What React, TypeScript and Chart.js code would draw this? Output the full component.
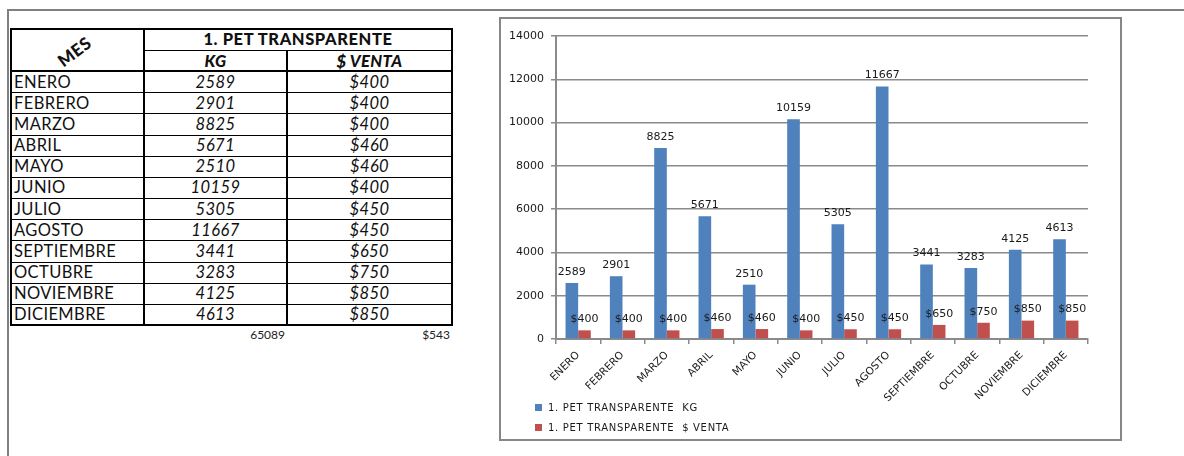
import React, { useEffect, useRef } from "react";
import { Chart, registerables } from "chart.js";

Chart.register(...registerables);

const months = [
  "ENERO",
  "FEBRERO",
  "MARZO",
  "ABRIL",
  "MAYO",
  "JUNIO",
  "JULIO",
  "AGOSTO",
  "SEPTIEMBRE",
  "OCTUBRE",
  "NOVIEMBRE",
  "DICIEMBRE",
];
const kgValues = [2589, 2901, 8825, 5671, 2510, 10159, 5305, 11667, 3441, 3283, 4125, 4613];
const ventaValues = [400, 400, 400, 460, 460, 400, 450, 450, 650, 750, 850, 850];
const seriesLabels = ["1. PET TRANSPARENTE  KG", "1. PET TRANSPARENTE  $ VENTA"];
const seriesColors = ["#4F81BD", "#C0504D"];
const yMin = 0;
const yMax = 14000;
const yStep = 2000;
const tableTitle = "1. PET TRANSPARENTE";
const colHeaders = ["MES", "KG", "$ VENTA"];
const totalKg = String(kgValues.reduce((a, b) => a + b, 0));
const avgVenta = "$" + Math.round(ventaValues.reduce((a, b) => a + b, 0) / ventaValues.length);

const FONT = "'DejaVu Sans', Verdana, sans-serif";
const TFONT = "Lato, 'Open Sans', sans-serif";

const valueLabels = {
  id: "valueLabels",
  afterDatasetsDraw(chart: any) {
    const ctx = chart.ctx;
    ctx.save();
    ctx.font = "11px " + FONT;
    ctx.fillStyle = "#1a1a1a";
    ctx.textAlign = "center";
    ctx.textBaseline = "middle";
    chart.data.datasets.forEach((ds: any, di: number) => {
      const meta = chart.getDatasetMeta(di);
      meta.data.forEach((el: any, i: number) => {
        const v = ds.data[i];
        const txt = di === 1 ? "$" + v : String(v);
        ctx.fillText(txt, el.x, el.y - 11);
      });
    });
    ctx.restore();
  },
};

function ChartBox() {
  const ref = useRef<HTMLCanvasElement | null>(null);
  useEffect(() => {
    if (!ref.current) return;
    const chart = new Chart(ref.current, {
      type: "bar",
      data: {
        labels: months,
        datasets: [
          {
            label: seriesLabels[0],
            data: kgValues,
            backgroundColor: seriesColors[0],
            categoryPercentage: 0.57,
            barPercentage: 1,
          },
          {
            label: seriesLabels[1],
            data: ventaValues,
            backgroundColor: seriesColors[1],
            categoryPercentage: 0.57,
            barPercentage: 1,
          },
        ],
      },
      options: {
        responsive: false,
        maintainAspectRatio: false,
        animation: false,
        layout: { padding: { left: 0, right: 32, top: 17, bottom: 0 } },
        plugins: {
          legend: { display: false },
          tooltip: { enabled: false },
        },
        scales: {
          x: {
            grid: {
              drawOnChartArea: false,
              drawTicks: true,
              tickLength: 5,
              color: "#8a8a8a",
              lineWidth: 1.5,
            },
            border: { display: true, color: "#8a8a8a", width: 2 },
            ticks: {
              minRotation: 45,
              maxRotation: 45,
              autoSkip: false,
              font: { family: FONT, size: 10.5 },
              color: "#1a1a1a",
              padding: 5,
            },
            afterFit: (s: any) => {
              s.height = 100;
            },
          },
          y: {
            min: yMin,
            max: yMax,
            ticks: {
              stepSize: yStep,
              font: { family: FONT, size: 11 },
              color: "#1a1a1a",
              padding: 7,
              callback: (v: any) => String(v),
            },
            grid: {
              color: "#8a8a8a",
              lineWidth: 1.5,
              tickLength: 5,
            },
            border: { display: true, color: "#8a8a8a", width: 2 },
            afterFit: (s: any) => {
              s.width = 55;
            },
          },
        },
      },
      plugins: [valueLabels],
    });
    return () => chart.destroy();
  }, []);
  return (
    <div
      style={{
        position: "absolute",
        left: 499,
        top: 17,
        width: 623,
        height: 424,
        border: "2px solid #878787",
        boxSizing: "border-box",
        background: "#fff",
      }}
    >
      <canvas ref={ref} width={619} height={420} style={{ display: "block", width: 619, height: 420 }} />
      {seriesLabels.map((lab, i) => (
        <div
          key={lab}
          style={{
            position: "absolute",
            left: 34,
            top: 381 + i * 20,
            height: 14,
            display: "flex",
            alignItems: "center",
            fontFamily: FONT,
            fontSize: 10,
            letterSpacing: 0.7,
            color: "#1a1a1a",
            whiteSpace: "pre",
          }}
        >
          <span style={{ width: 7, height: 7, background: seriesColors[i], marginRight: 6, display: "inline-block" }} />
          <span>{lab}</span>
        </div>
      ))}
    </div>
  );
}

const TL = 10; // table left
const TT = 28; // table top
const C1 = 144;
const C2 = 287;
const TR = 452;
const H1 = 50;
const H2 = 71;
const TB = 325;

function Line({ x, y, w, h }: { x: number; y: number; w: number; h: number }) {
  return <div style={{ position: "absolute", left: x, top: y, width: w, height: h, background: "#000" }} />;
}

function Cell({
  x1,
  x2,
  y1,
  y2,
  align,
  style,
  children,
}: {
  x1: number;
  x2: number;
  y1: number;
  y2: number;
  align: "left" | "center" | "right";
  style?: React.CSSProperties;
  children: React.ReactNode;
}) {
  return (
    <div
      style={{
        position: "absolute",
        left: x1,
        top: y1,
        width: x2 - x1,
        height: y2 - y1,
        display: "flex",
        alignItems: "center",
        justifyContent: align === "left" ? "flex-start" : align === "right" ? "flex-end" : "center",
        whiteSpace: "nowrap",
        ...style,
      }}
    >
      {children}
    </div>
  );
}

function DataTable() {
  const rowH = (TB - H2) / months.length;
  return (
    <div
      style={{
        position: "absolute",
        left: 0,
        top: 0,
        fontFamily: TFONT,
        fontSize: 16.5,
        letterSpacing: 0.4,
        color: "#111",
      }}
    >
      <Cell x1={TL} x2={C1} y1={TT} y2={H2} align="center">
        <span
          style={{
            fontWeight: 900,
            fontSize: 17,
            transform: "translate(-3px, 2px) rotate(-37deg)",
            display: "inline-block",
          }}
        >
          {colHeaders[0]}
        </span>
      </Cell>
      <Cell x1={C1} x2={TR} y1={TT} y2={H1} align="center" style={{ fontWeight: 900, fontSize: 16.5, letterSpacing: 0.6 }}>
        {tableTitle}
      </Cell>
      <Cell x1={C1} x2={C2} y1={H1} y2={H2} align="center" style={{ fontWeight: 900, fontStyle: "italic" }}>
        {colHeaders[1]}
      </Cell>
      <Cell x1={C2} x2={TR} y1={H1} y2={H2} align="center" style={{ fontWeight: 900, fontStyle: "italic" }}>
        {colHeaders[2]}
      </Cell>
      {months.map((m, i) => {
        const y1 = H2 + i * rowH;
        const y2 = y1 + rowH;
        return (
          <React.Fragment key={m}>
            <Cell x1={TL + 4} x2={C1} y1={y1} y2={y2} align="left">
              {m}
            </Cell>
            <Cell x1={C1} x2={C2} y1={y1} y2={y2} align="center" style={{ fontStyle: "italic" }}>
              {kgValues[i]}
            </Cell>
            <Cell x1={C2} x2={TR} y1={y1} y2={y2} align="center" style={{ fontStyle: "italic" }}>
              {"$" + ventaValues[i]}
            </Cell>
            {i > 0 ? <Line x={TL} y={Math.round(y1)} w={TR - TL} h={1} /> : null}
          </React.Fragment>
        );
      })}
      {/* header separators */}
      <Line x={C1} y={H1} w={TR - C1} h={1} />
      <Line x={TL} y={H2 - 1} w={TR - TL} h={2} />
      {/* column lines */}
      <Line x={C1 - 1} y={TT} w={2} h={TB - TT} />
      <Line x={C2 - 1} y={H1} w={2} h={TB - H1} />
      {/* outer border */}
      <Line x={TL} y={TT} w={TR - TL + 1} h={2} />
      <Line x={TL} y={TB - 1} w={TR - TL + 1} h={2} />
      <Line x={TL} y={TT} w={2} h={TB - TT + 1} />
      <Line x={TR - 1} y={TT} w={2} h={TB - TT + 1} />
      {/* totals */}
      <Cell x1={C1} x2={C2 - 2} y1={TB + 2} y2={TB + 17} align="right" style={{ fontSize: 12, color: "#222", letterSpacing: 0 }}>
        {totalKg}
      </Cell>
      <Cell x1={C2} x2={TR - 2} y1={TB + 2} y2={TB + 17} align="right" style={{ fontSize: 12, color: "#222", letterSpacing: 0 }}>
        {avgVenta}
      </Cell>
    </div>
  );
}

export default function App() {
  return (
    <div style={{ position: "fixed", left: 0, top: 0, width: 1184, height: 456, background: "#fff", overflow: "hidden" }}>
      <div
        style={{
          position: "absolute",
          left: 7,
          top: 9,
          width: 1190,
          height: 460,
          borderTop: "2px solid #808080",
          borderLeft: "2px solid #808080",
        }}
      />
      <DataTable />
      <ChartBox />
    </div>
  );
}
